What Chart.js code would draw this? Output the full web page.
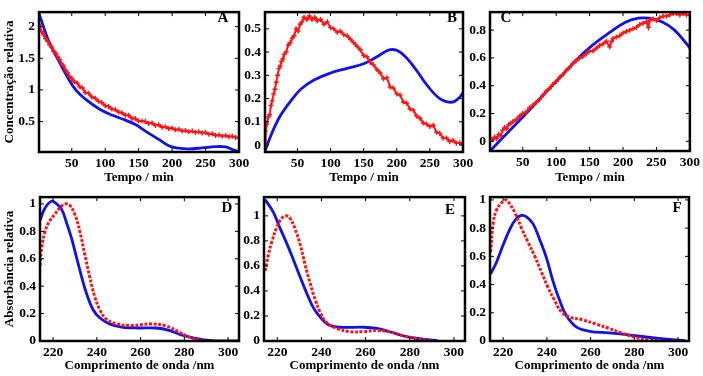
<!DOCTYPE html>
<html>
<head>
<meta charset="utf-8">
<script src="https://cdn.jsdelivr.net/npm/chart.js@4.4.0/dist/chart.umd.min.js"></script>
<style>
  body { margin: 0; background: #fff; width: 703px; height: 376px; position: relative; overflow: hidden; }
  canvas { position: absolute; }
</style>
</head>
<body>
<canvas id="pA"></canvas>
<canvas id="pB"></canvas>
<canvas id="pC"></canvas>
<canvas id="pD"></canvas>
<canvas id="pE"></canvas>
<canvas id="pF"></canvas>
<script>
// ---- dados: perfis de concentração (linha de cima) ----
const ticksTempo = [50, 100, 150, 200, 250, 300];
const ticksOnda = [220, 240, 260, 280, 300];

const tA_exp = [2, 5, 8, 11, 14, 17, 20, 23, 26, 29, 32, 35, 38, 41, 44, 47, 50, 54, 58, 62, 66, 70, 75, 80, 85, 90, 95, 100, 105, 110, 115, 120, 125, 130, 135, 140, 145, 150, 155, 160, 165, 170, 175, 180, 185, 190, 195, 200, 205, 210, 215, 220, 225, 230, 235, 240, 245, 250, 255, 260, 265, 270, 275, 280, 285, 290, 295, 300];
const cA_exp = [2.03, 1.92, 1.87, 1.81, 1.77, 1.71, 1.68, 1.61, 1.58, 1.52, 1.48, 1.41, 1.38, 1.31, 1.27, 1.21, 1.18, 1.13, 1.11, 1.05, 1.03, 0.96, 0.95, 0.89, 0.87, 0.82, 0.80, 0.75, 0.74, 0.70, 0.69, 0.65, 0.64, 0.60, 0.60, 0.55, 0.55, 0.51, 0.51, 0.50, 0.47, 0.48, 0.44, 0.45, 0.41, 0.42, 0.39, 0.40, 0.37, 0.38, 0.35, 0.36, 0.34, 0.35, 0.33, 0.34, 0.32, 0.33, 0.30, 0.31, 0.28, 0.29, 0.27, 0.28, 0.26, 0.27, 0.25, 0.25];
const tA_mod = [1, 16, 31, 41, 56, 71, 91, 111, 131, 146, 160, 180, 195, 210, 225, 245, 265, 280, 290, 298];
const cA_mod = [2.21, 1.76, 1.45, 1.25, 1.0, 0.85, 0.70, 0.60, 0.52, 0.45, 0.35, 0.22, 0.12, 0.08, 0.07, 0.085, 0.105, 0.10, 0.06, 0.035];

const tB_exp = [1, 2, 4, 6, 8, 10, 12, 14, 16, 18, 20, 22, 24, 26, 28, 30, 33, 36, 39, 42, 45, 48, 51, 54, 57, 60, 64, 68, 72, 76, 80, 85, 90, 95, 100, 105, 110, 115, 120, 125, 130, 135, 140, 145, 150, 155, 160, 165, 170, 175, 180, 185, 190, 195, 200, 205, 210, 215, 220, 225, 230, 235, 240, 245, 250, 255, 260, 265, 270, 275, 280, 285, 290, 295, 300];
const cB_exp = [0.00, 0.06, 0.09, 0.12, 0.13, 0.17, 0.19, 0.22, 0.24, 0.27, 0.30, 0.33, 0.34, 0.36, 0.37, 0.39, 0.40, 0.43, 0.44, 0.46, 0.47, 0.50, 0.49, 0.52, 0.53, 0.55, 0.54, 0.555, 0.54, 0.55, 0.535, 0.54, 0.52, 0.53, 0.505, 0.50, 0.485, 0.49, 0.475, 0.47, 0.455, 0.44, 0.425, 0.41, 0.385, 0.38, 0.355, 0.345, 0.325, 0.31, 0.285, 0.29, 0.25, 0.245, 0.22, 0.215, 0.185, 0.18, 0.155, 0.15, 0.125, 0.115, 0.095, 0.09, 0.08, 0.085, 0.055, 0.05, 0.03, 0.03, 0.015, 0.02, 0.008, 0.01, 0.004];
const tB_mod = [1, 7, 15, 25, 40, 55, 75, 100, 125, 150, 170, 190, 205, 225, 245, 265, 283, 293, 300];
const cB_mod = [-0.025, 0.02, 0.075, 0.13, 0.19, 0.24, 0.28, 0.31, 0.33, 0.35, 0.38, 0.41, 0.40, 0.34, 0.26, 0.20, 0.184, 0.20, 0.225];

const tC_exp = [2, 5, 8, 11, 14, 17, 20, 23, 26, 29, 32, 35, 40, 45, 50, 55, 60, 65, 70, 75, 80, 85, 90, 95, 100, 105, 110, 115, 120, 125, 130, 135, 140, 145, 150, 155, 160, 165, 170, 175, 180, 183, 185, 190, 195, 200, 205, 210, 215, 220, 225, 230, 235, 238, 240, 245, 250, 255, 260, 265, 270, 275, 280, 285, 290, 295, 300];
const cC_exp = [0.02, 0.01, 0.03, 0.02, 0.05, 0.04, 0.08, 0.10, 0.09, 0.12, 0.13, 0.14, 0.155, 0.18, 0.20, 0.21, 0.24, 0.26, 0.28, 0.30, 0.33, 0.36, 0.38, 0.41, 0.43, 0.46, 0.48, 0.51, 0.53, 0.56, 0.58, 0.60, 0.61, 0.63, 0.65, 0.65, 0.67, 0.69, 0.70, 0.72, 0.68, 0.72, 0.74, 0.75, 0.76, 0.78, 0.79, 0.80, 0.81, 0.82, 0.84, 0.85, 0.86, 0.82, 0.87, 0.88, 0.87, 0.89, 0.90, 0.90, 0.91, 0.92, 0.92, 0.91, 0.92, 0.91, 0.91];
const tC_mod = [2, 30, 55, 80, 104, 129, 154, 179, 203, 223, 238, 258, 277, 297, 300];
const cC_mod = [-0.065, 0.075, 0.20, 0.33, 0.45, 0.58, 0.69, 0.78, 0.856, 0.886, 0.886, 0.86, 0.80, 0.69, 0.67];

// ---- dados: espectros (linha de baixo) ----
const nD_mod = [214, 216.3, 219.3, 221.6, 223.9, 226, 228.4, 230.7, 233, 235.2, 238.2, 241.3, 245.8, 251.9, 259.5, 267, 273, 279, 285.2, 291.3, 302, 305];
const aD_mod = [0.88, 0.97, 1.02, 1.0, 0.96, 0.87, 0.75, 0.61, 0.47, 0.35, 0.23, 0.17, 0.125, 0.10, 0.095, 0.095, 0.078, 0.042, 0.02, 0.005, 0, 0];
const nD_exp = [214, 214.8, 216.3, 218.2, 220.8, 223, 225.4, 227.6, 229.9, 232.2, 234.5, 236.7, 239, 241.3, 244.3, 248.9, 256.4, 264, 271.6, 277.6, 282.2, 286.7, 289.8];
const aD_exp = [0.55, 0.68, 0.80, 0.87, 0.925, 0.97, 1.0, 0.99, 0.925, 0.80, 0.63, 0.47, 0.325, 0.23, 0.16, 0.125, 0.113, 0.125, 0.11, 0.065, 0.03, 0.005, 0];

const nE_mod = [214.5, 218.2, 221.3, 224.3, 227.3, 230.4, 233.4, 236.4, 239.5, 243.2, 248.5, 259.1, 265.2, 271.3, 277.3, 283.4, 292.5];
const aE_mod = [1.13, 1.03, 0.90, 0.78, 0.65, 0.51, 0.38, 0.265, 0.19, 0.13, 0.11, 0.11, 0.10, 0.072, 0.04, 0.02, 0.003];
const nE_exp = [214.5, 216, 217.5, 219.8, 222, 224, 225.8, 228, 230.4, 232.6, 234.9, 237.2, 239.5, 242.5, 247, 253.1, 259.1, 265.2, 271.3, 277.3, 283.4, 289.5];
const aE_exp = [0.56, 0.69, 0.79, 0.91, 0.98, 1.0, 0.98, 0.90, 0.77, 0.61, 0.46, 0.33, 0.227, 0.145, 0.10, 0.075, 0.075, 0.085, 0.072, 0.04, 0.02, 0.003];

const nF_mod = [214.3, 217, 220, 223, 226, 228.4, 230.7, 233.7, 236.7, 239.8, 242.8, 245.8, 248.9, 253.4, 259.5, 268.5, 279.1, 291.3, 303.4];
const aF_mod = [0.476, 0.56, 0.68, 0.79, 0.867, 0.89, 0.88, 0.83, 0.72, 0.59, 0.425, 0.29, 0.18, 0.10, 0.069, 0.057, 0.04, 0.018, 0.002];
const nF_exp = [214.3, 215.5, 217, 219.3, 221.3, 223.1, 225.4, 228.4, 231.4, 234.5, 237.5, 240.5, 243.5, 246.6, 250.4, 256.4, 262.5, 268.5, 274.6, 280.7, 286.7, 292.8];
const aF_exp = [0.63, 0.84, 0.93, 0.98, 1.0, 0.97, 0.91, 0.80, 0.70, 0.60, 0.49, 0.38, 0.29, 0.207, 0.17, 0.15, 0.12, 0.089, 0.055, 0.025, 0.008, 0];

const AZUL = '#1010f0';
const VERMELHO = '#ff1414';
const FONTE = '"Liberation Serif", "DejaVu Serif", serif';

function pares(xs, ys) {
    return xs.map((x, k) => ({ x: x, y: ys[k] }));
}

// moldura preta grossa + marcas de escala para dentro
const moldura = {
    id: 'moldura',
    afterDraw(chart, args, o) {
        const ctx = chart.ctx;
        const a = chart.chartArea;
        ctx.save();
        ctx.strokeStyle = '#000';
        ctx.lineWidth = 1;
        ctx.beginPath();
        chart.scales.x.ticks.forEach(t => {
            const px = chart.scales.x.getPixelForValue(t.value);
            ctx.moveTo(px, a.bottom); ctx.lineTo(px, a.bottom - 4);
            ctx.moveTo(px, a.top); ctx.lineTo(px, a.top + 4);
        });
        chart.scales.y.ticks.forEach(t => {
            const py = chart.scales.y.getPixelForValue(t.value);
            ctx.moveTo(a.left, py); ctx.lineTo(a.left + 4, py);
            ctx.moveTo(a.right, py); ctx.lineTo(a.right - 4, py);
        });
        ctx.stroke();
        ctx.lineWidth = 2.5;
        ctx.strokeRect(a.left, a.top, a.right - a.left, a.bottom - a.top);
        ctx.fillStyle = '#000';
        ctx.font = 'bold 15px ' + FONTE;
        ctx.textAlign = 'center';
        ctx.textBaseline = 'middle';
        ctx.fillText(o.letra, o.lx, o.ly);
        ctx.restore();
    }
};

function painel(id, p) {
    const cv = document.getElementById(id);
    const w = p.yw + (p.box[2] - p.box[0]) + p.pr;
    const h = p.pt + (p.box[3] - p.box[1]) + p.xh;
    const left = p.box[0] - p.yw, top = p.box[1] - p.pt;
    cv.width = w; cv.height = h;
    cv.style.left = left + 'px'; cv.style.top = top + 'px';
    cv.style.width = w + 'px'; cv.style.height = h + 'px';

    const expStyle = p.espectro
        ? { borderColor: VERMELHO, borderWidth: 3, borderDash: [3, 1.6], pointRadius: 0, tension: 0.4 }
        : { borderColor: VERMELHO, borderWidth: 2, pointStyle: 'cross', pointRadius: 2.5, pointBorderWidth: 1.4, pointBorderColor: VERMELHO, tension: 0 };

    return new Chart(cv.getContext('2d'), {
        type: 'scatter',
        data: {
            datasets: [
                Object.assign({ data: pares(p.xe, p.ye), showLine: true }, expStyle),
                { data: pares(p.xm, p.ym), showLine: true, borderColor: AZUL, borderWidth: 2.8, pointRadius: 0, tension: 0.4 }
            ]
        },
        plugins: [moldura],
        options: {
            responsive: false,
            animation: false,
            layout: { padding: { top: p.pt, right: p.pr, left: 0, bottom: 0 } },
            plugins: {
                legend: { display: false },
                tooltip: { enabled: false },
                moldura: { letra: p.letra, lx: p.letraPos[0] - left, ly: p.letraPos[1] - top }
            },
            scales: {
                x: {
                    type: 'linear',
                    min: p.xr[0], max: p.xr[1],
                    grid: { display: false, drawTicks: false },
                    border: { display: false },
                    afterBuildTicks: s => { s.ticks = p.xt.map(v => ({ value: v })); },
                    afterFit: s => { s.height = p.xh; },
                    ticks: { color: '#000', padding: 3, font: { family: FONTE, size: 13.5, weight: 'bold' }, maxRotation: 0, callback: v => String(v) },
                    title: { display: true, text: p.xtit, color: '#000', padding: { top: 0, bottom: 0 }, font: { family: FONTE, size: 13, weight: 'bold' } }
                },
                y: {
                    type: 'linear',
                    min: p.yr[0], max: p.yr[1],
                    grid: { display: false, drawTicks: false },
                    border: { display: false },
                    afterBuildTicks: s => { s.ticks = p.yt.map(v => ({ value: v })); },
                    afterFit: s => { s.width = p.yw; },
                    ticks: { color: '#000', padding: 4, font: { family: FONTE, size: 13.5, weight: 'bold' }, callback: v => String(v) },
                    title: { display: !!p.ytit, text: p.ytit || '', color: '#000', padding: { top: 2, bottom: 0 }, font: { family: FONTE, size: 13, weight: 'bold' } }
                }
            }
        }
    });
}

const yTicksB = [0, 0.1, 0.2, 0.3, 0.4, 0.5];
const yTicksC = [0, 0.2, 0.4, 0.6, 0.8];
const yTicksEsp = [0, 0.2, 0.4, 0.6, 0.8, 1];

painel('pA', { box: [39, 5, 239, 152], yw: 39, pt: 5, pr: 14, xh: 33,
    xr: [1, 300], yr: [0.02, 2.23], xt: ticksTempo, yt: [0.5, 1, 1.5, 2],
    xe: tA_exp, ye: cA_exp, xm: tA_mod, ym: cA_mod,
    xtit: 'Tempo / min', ytit: 'Concentração relativa', letra: 'A', letraPos: [223, 18] });

painel('pB', { box: [265, 5, 463, 152], yw: 26, pt: 5, pr: 14, xh: 33,
    xr: [1, 300], yr: [-0.03, 0.572], xt: ticksTempo, yt: yTicksB,
    xe: tB_exp, ye: cB_exp, xm: tB_mod, ym: cB_mod,
    xtit: 'Tempo / min', letra: 'B', letraPos: [452, 18] });

painel('pC', { box: [490, 5, 692, 151], yw: 26, pt: 5, pr: 11, xh: 34,
    xr: [1, 300], yr: [-0.07, 0.93], xt: ticksTempo, yt: yTicksC,
    xe: tC_exp, ye: cC_exp, xm: tC_mod, ym: cC_mod,
    xtit: 'Tempo / min', letra: 'C', letraPos: [506, 18] });

painel('pD', { box: [40, 192, 239, 341], yw: 40, pt: 7, pr: 14, xh: 32, espectro: true,
    xr: [214, 305], yr: [0, 1.05], xt: ticksOnda, yt: yTicksEsp,
    xe: nD_exp, ye: aD_exp, xm: nD_mod, ym: aD_mod,
    xtit: 'Comprimento de onda /nm', ytit: 'Absorbância relativa', letra: 'D', letraPos: [227, 208] });

painel('pE', { box: [264, 192, 465, 341], yw: 26, pt: 7, pr: 14, xh: 32, espectro: true,
    xr: [214, 305], yr: [0, 1.15], xt: ticksOnda, yt: yTicksEsp,
    xe: nE_exp, ye: aE_exp, xm: nE_mod, ym: aE_mod,
    xtit: 'Comprimento de onda /nm', letra: 'E', letraPos: [450, 210] });

painel('pF', { box: [490, 192, 689, 341], yw: 26, pt: 7, pr: 14, xh: 32, espectro: true,
    xr: [214, 305], yr: [0, 1.02], xt: ticksOnda, yt: yTicksEsp,
    xe: nF_exp, ye: aF_exp, xm: nF_mod, ym: aF_mod,
    xtit: 'Comprimento de onda /nm', letra: 'F', letraPos: [677, 208] });
</script>
</body>
</html>
